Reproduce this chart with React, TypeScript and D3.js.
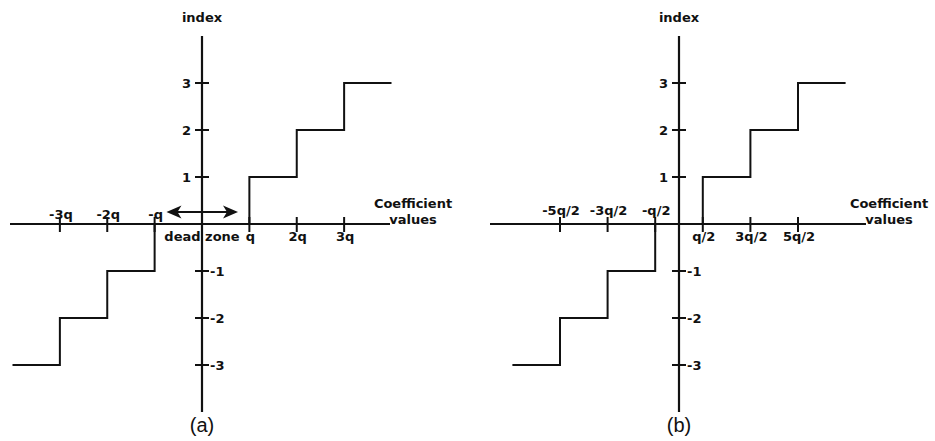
import React from "react";
import * as d3 from "d3";

// ---- data (in units of q and index levels) ----
const indexTicks = [-3, -2, -1, 1, 2, 3];
const deadZoneThresholds = [-3, -2, -1, 1, 2, 3];
const uniformThresholds = [-2.5, -1.5, -0.5, 0.5, 1.5, 2.5];
const stairLevels = [-3, -2, -1, 0, 1, 2, 3];
const deadZoneTickLabels = ["-3q", "-2q", "-q", "q", "2q", "3q"];
const uniformTickLabels = ["-5q/2", "-3q/2", "-q/2", "q/2", "3q/2", "5q/2"];
const deadZoneExtent = [-4, 4];
const uniformExtent = [-3.5, 3.5];

const W = 935;
const H = 441;
const BOLD = "'DejaVu Sans', sans-serif";
const INK = "#111";

type PanelProps = {
  cx: number;
  unit: number;
  axisX: [number, number];
  thresholds: number[];
  tickLabels: string[];
  extent: number[];
  caption: string;
  upperBaseline: number;
  lowerBaseline: number;
  deadZone?: boolean;
};

function Panel(p: PanelProps) {
  const x = d3
    .scaleLinear()
    .domain([-1, 1])
    .range([p.cx - p.unit, p.cx + p.unit]);
  const y = d3.scaleLinear().domain([-3, 3]).range([365, 83]);
  const y0 = y(0);

  const pts: [number, number][] = [];
  pts.push([p.extent[0], stairLevels[0]]);
  p.thresholds.forEach((t, i) => pts.push([t, stairLevels[i + 1]]));
  pts.push([p.extent[1], stairLevels[stairLevels.length - 1]]);
  const line = d3
    .line<[number, number]>()
    .x((d) => x(d[0]))
    .y((d) => y(d[1]))
    .curve(d3.curveStepAfter);

  const axisTop = y(4);
  const axisBottom = y(-4);
  const labelX = p.axisX[1] + 23;
  const ax0 = x(-0.75);
  const ax1 = x(0.76);

  return (
    <g>
      {/* staircase */}
      <path d={line(pts) || ""} fill="none" stroke={INK} strokeWidth={2} />
      {/* x axis */}
      <line x1={p.axisX[0]} x2={p.axisX[1]} y1={y0} y2={y0} stroke={INK} strokeWidth={2} />
      {/* y axis */}
      <line x1={p.cx} x2={p.cx} y1={axisTop} y2={axisBottom} stroke={INK} strokeWidth={2.2} />
      {/* y ticks */}
      {indexTicks.map((v) => (
        <g key={"y" + v}>
          <line x1={p.cx - 7} x2={p.cx + 7} y1={y(v)} y2={y(v)} stroke={INK} strokeWidth={2} />
          <text
            x={v > 0 ? p.cx - 11 : p.cx + 8}
            y={y(v)}
            dy="0.36em"
            textAnchor={v > 0 ? "end" : "start"}
            fontFamily={BOLD}
            fontWeight="bold"
            fontSize={13}
            fill={INK}
          >
            {v}
          </text>
        </g>
      ))}
      {/* x ticks */}
      {p.thresholds.map((t, i) => (
        <g key={"x" + t}>
          <line x1={x(t)} x2={x(t)} y1={y0 - 7} y2={y0 + 8} stroke={INK} strokeWidth={2} />
          <text
            x={x(t) + 1}
            y={t < 0 ? p.upperBaseline : p.lowerBaseline}
            textAnchor="middle"
            fontFamily={BOLD}
            fontWeight="bold"
            fontSize={13}
            fill={INK}
          >
            {p.tickLabels[i]}
          </text>
        </g>
      ))}
      {/* axis titles */}
      <text x={p.cx} y={22} textAnchor="middle" fontFamily={BOLD} fontWeight="bold" fontSize={13} fill={INK}>
        index
      </text>
      <text x={labelX} y={208} textAnchor="middle" fontFamily={BOLD} fontWeight="bold" fontSize={13} fill={INK}>
        Coefficient
      </text>
      <text x={labelX} y={224} textAnchor="middle" fontFamily={BOLD} fontWeight="bold" fontSize={13} fill={INK}>
        values
      </text>
      {p.deadZone && (
        <g>
          <line x1={ax0 + 10} x2={ax1 - 10} y1={212} y2={212} stroke={INK} strokeWidth={2} />
          <path
            d={`M${ax0},212 L${ax0 + 15},205.5 L${ax0 + 11},212 L${ax0 + 15},218.5 Z`}
            fill={INK}
          />
          <path
            d={`M${ax1},212 L${ax1 - 15},205.5 L${ax1 - 11},212 L${ax1 - 15},218.5 Z`}
            fill={INK}
          />
          <text x={p.cx} y={241} textAnchor="middle" fontFamily={BOLD} fontWeight="bold" fontSize={13} fill={INK}>
            dead zone
          </text>
        </g>
      )}
      <text
        x={p.cx}
        y={432}
        textAnchor="middle"
        fontFamily="'Liberation Sans', Arial, sans-serif"
        fontSize={20}
        fill={INK}
      >
        {p.caption}
      </text>
    </g>
  );
}

export default function App() {
  return (
    <svg
      width={W}
      height={H}
      viewBox={`0 0 ${W} ${H}`}
      style={{ position: "absolute", left: 0, top: 0, background: "#fff" }}
    >
      <rect width={W} height={H} fill="#fff" />
      <Panel
        cx={202}
        unit={47.375}
        axisX={[10, 390]}
        thresholds={deadZoneThresholds}
        tickLabels={deadZoneTickLabels}
        extent={deadZoneExtent}
        caption="(a)"
        upperBaseline={219}
        lowerBaseline={241}
        deadZone
      />
      <Panel
        cx={679}
        unit={47.6}
        axisX={[490, 866]}
        thresholds={uniformThresholds}
        tickLabels={uniformTickLabels}
        extent={uniformExtent}
        caption="(b)"
        upperBaseline={215}
        lowerBaseline={241}
      />
    </svg>
  );
}
